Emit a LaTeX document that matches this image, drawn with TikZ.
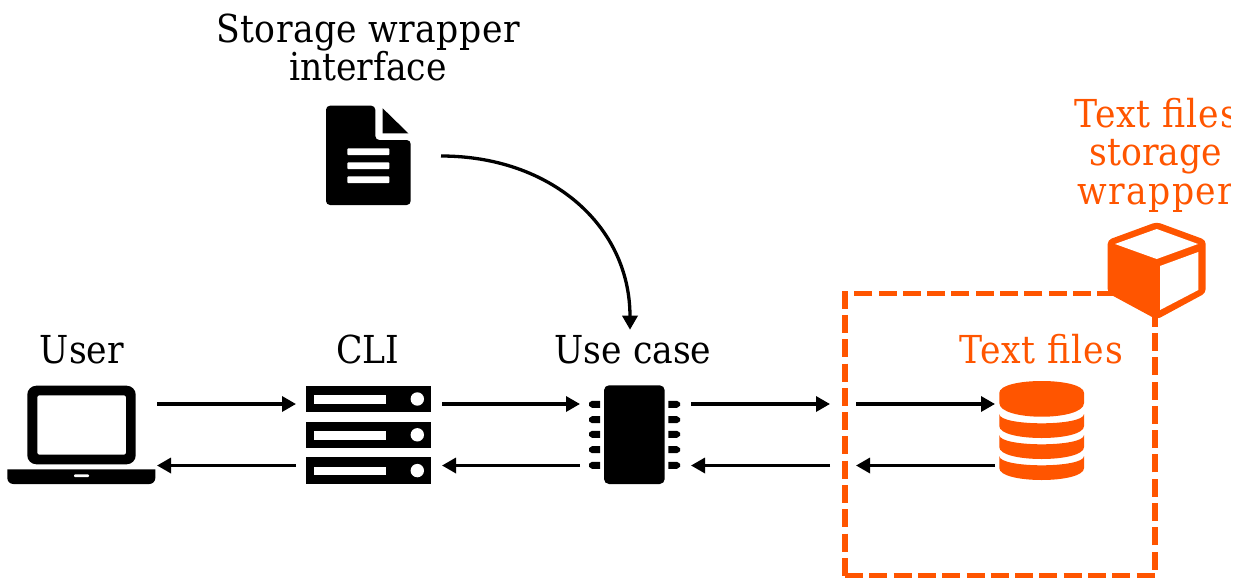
\documentclass[tikz,border=0pt]{standalone}
\usepackage{fontspec}
\setmainfont{DejaVu Serif Condensed}
\usetikzlibrary{arrows.meta}
\definecolor{wrapperorange}{HTML}{FF5500}
\newcommand{\wider}[2]{{\addfontfeature{LetterSpace=#1}#2}}
\tikzstyle{label} = [inner sep = 0pt, font = \fontsize{38.5}{38.5}\selectfont, align = center]
\tikzstyle{icon} = [inner sep = 0pt, outer sep = 0pt, minimum height = 100pt]
\tikzstyle{wrapper} = [inner sep = 0pt, outer sep = 0pt, minimum width = 310pt, minimum height = 282pt, draw = wrapperorange, line width = 5.5pt, dash pattern = on 18pt off 6.3pt]
\tikzstyle{arrow} = [line width = 3.3pt, -{Triangle[length = 14pt, width = 15pt]}]
\begin{document}
\begin{tikzpicture}[x = 1pt, y = -1pt]
    \useasboundingbox (0,0) rectangle (1239,578);
    % \node(label)[style]{text};
    \node(userlabel)[label, anchor = base] at (82,363){User};
    \node(clilabel)[label, anchor = base] at (368,363){CLI};
    \node(caselabel)[label, anchor = base] at (633,363){Use case};
    \node(fileslabel)[label, anchor = base, text = wrapperorange] at (1041,363){\wider{2.3}{Text files}};
    \node(interfacelabel)[label, anchor = base] at (368,81){\wider{1.2}{Storage wrapper}\\interface};
    \begin{scope}
        \clip (1060,85) rectangle (1230,220);
        \node(wrapperlabel)[label, anchor = base, text = wrapperorange] at (1156,204){\wider{2.3}{Text files}\\storage\\\wider{3.5}{wrapper}};
    \end{scope}

    \node(laptop)[icon, minimum width = 149pt] at (82.5,434.5){};
    \node(server)[icon, minimum width = 146pt] at (369,434.5){};
    \node(chip)[icon, minimum width = 111pt] at (635.5,434.5){};
    \node(disk)[icon, minimum width = 90pt] at (1040,434.5){};
    \node(doc)[icon, minimum width = 115pt] at (383.5,156){};
    \node(box)[wrapper] at (1000,434.5){};

    % laptop
    \fill[even odd rule] [rounded corners = 9pt] (27.3,385.7) rectangle (135.7,464.3) [rounded corners = 2pt] (37.3,395.3) rectangle (126,454.7);
    \fill (7.3,469.3) -- (155.3,469.3) [rounded corners = 6pt] -- (155.3,484) -- (7.3,484) [sharp corners] -- cycle;
    \fill[white, rounded corners = 1pt] (74,474.3) rectangle (89,477);

    % server
    \foreach \y in {0,35.8,71.6}{
        \fill (305.7,385.7+\y) rectangle (431,412.3+\y);
        \fill[white] (314.3,395+\y) rectangle (386,403.7+\y);
        \fill[white] (417.3,399+\y) circle (6.7);
    }

    % chip
    \fill[rounded corners = 5pt] (604,385.3) rectangle (664.7,484);
    \foreach \y in {404.3,419.7,434.3,449.7,465.3}{
        \fill (600,\y-3.5) -- (592,\y-3.5) -- (589,\y-1.5) -- (589,\y+1.5) -- (592,\y+3.5) -- (600,\y+3.5) -- cycle;
        \fill (668.3,\y-3.5) -- (677,\y-3.5) -- (680,\y-1.5) -- (680,\y+1.5) -- (677,\y+3.5) -- (668.3,\y+3.5) -- cycle;
    }

    % document
    \fill[rounded corners = 4pt] (375.3,105.7) -- (326,105.7) -- (326,205) -- (410.7,205) -- (410.7,140) -- (375.3,140) -- cycle;
    \fill (382.7,108.3) -- (408.3,133.3) -- (382.7,133.3) -- cycle;
    \foreach \y in {148.3,162.3,176.3}{
        \fill[white, rounded corners = 1pt] (347.3,\y) rectangle (389.3,\y+6.9);
    }

    % disk
    \fill[wrapperorange] (999.3,393) .. controls (999.3,377) and (1084,377) .. (1084,393) -- (1084,403) .. controls (1084,421.3) and (999.3,421.3) .. (999.3,403) -- cycle;
    \foreach \y in {0,21,42}{
        \fill[wrapperorange] (999.3,414+\y) .. controls (999.3,426.4+\y) and (1084,426.4+\y) .. (1084,414+\y) -- (1084,426+\y) .. controls (1084,442+\y) and (999.3,442+\y) .. (999.3,426+\y) -- cycle;
    }

    % cube
    \fill[wrapperorange, rounded corners = 4pt] (1156.7,222) -- (1205.7,240) -- (1205.7,293) -- (1156.7,319.5) -- (1107.7,293) -- (1107.7,240) -- cycle;
    \fill[white] (1156.7,229) -- (1198,244) -- (1156.7,259) -- (1115,244) -- cycle;
    \fill[white] (1160,266) -- (1198.3,252) -- (1198.3,290) -- (1160,310) -- cycle;

    \draw[arrow]([yshift = 30.5pt]laptop.east)--([yshift = 30.5pt]server.west);
    \draw[arrow]([yshift = 30.5pt]server.east)--([yshift = 30.5pt]chip.west);
    \draw[arrow, shorten > = 15pt]([yshift = 30.5pt]chip.east)--([yshift = 30.5pt]box.west);
    \draw[arrow, shorten < = 11pt]([yshift = 30.5pt]box.west)--([yshift = 30.5pt]disk.west);
    \draw[arrow, shorten > = 11pt]([yshift = -31pt]disk.west)--([yshift = -31pt]box.west);
    \draw[arrow, shorten < = 15pt]([yshift = -31pt]box.west)--([yshift = -31pt]chip.east);
    \draw[arrow]([yshift = -31pt]chip.west)--([yshift = -31pt]server.east);
    \draw[arrow]([yshift = -31pt]server.west)--([yshift = -31pt]laptop.east);
    \draw[arrow](doc.east) .. controls (550,156) and (630,225) .. ([xshift = -3pt, yshift = 5pt]caselabel.north);
\end{tikzpicture}
\end{document}
